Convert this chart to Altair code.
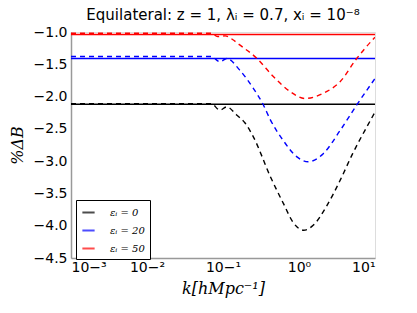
import altair as alt
import pandas as pd

labels = ["εᵢ = 0", "εᵢ = 20", "εᵢ = 50"]
colors = ["#000000", "#0000ff", "#ff0000"]

# constant (solid) levels
const_levels = [-2.12, -1.41, -1.04]

# dashed curves: k and values
k_black = [0.001, 0.01, 0.03, 0.05, 0.07, 0.091, 0.112, 0.15, 0.195, 0.25, 0.42, 0.62, 0.85, 1.15, 1.55, 2.3, 3.5, 5.1, 7.8, 10.0]
v_black = [-2.11, -2.11, -2.11, -2.11, -2.11, -2.21, -2.16, -2.28, -2.41, -2.62, -3.24, -3.65, -3.96, -4.07, -3.99, -3.70, -3.29, -2.88, -2.47, -2.24]

k_blue = [0.001, 0.01, 0.03, 0.05, 0.07, 0.091, 0.112, 0.166, 0.25, 0.34, 0.42, 0.62, 0.93, 1.32, 2.1, 3.5, 5.75, 10.0]
v_blue = [-1.38, -1.38, -1.38, -1.38, -1.38, -1.46, -1.41, -1.59, -1.87, -2.13, -2.36, -2.68, -2.93, -3.01, -2.88, -2.52, -2.13, -1.72]

k_red = [0.001, 0.01, 0.03, 0.05, 0.07, 0.085, 0.107, 0.135, 0.166, 0.28, 0.46, 0.76, 1.2, 2.07, 3.47, 5.75, 9.3, 10.0]
v_red = [-1.02, -1.02, -1.02, -1.02, -1.02, -1.07, -1.06, -1.12, -1.20, -1.41, -1.69, -1.92, -2.03, -1.95, -1.77, -1.41, -1.12, -1.08]

rows = []
for lab, ks, vs in zip(labels, [k_black, k_blue, k_red], [v_black, v_blue, v_red]):
    for k, v in zip(ks, vs):
        rows.append({"k": k, "v": v, "eps": lab})
curves = pd.DataFrame(rows)
consts = pd.DataFrame({"eps": labels, "v": const_levels})

xticks = [0.001, 0.01, 0.1, 1, 10]
yticks = [-1.0, -1.5, -2.0, -2.5, -3.0, -3.5, -4.0, -4.5]

color = alt.Color(
    "eps:N",
    scale=alt.Scale(domain=labels, range=colors),
    legend=alt.Legend(
        title=None, orient="none", legendX=5, legendY=168,
        symbolType="stroke", symbolSize=150, symbolStrokeWidth=2, symbolOpacity=0.7,
        symbolDash=[1, 0],
        labelFont="DejaVu Serif", labelFontSize=10, labelFontStyle="italic",
        strokeColor="black", fillColor="white", padding=5, rowPadding=5,
        cornerRadius=0, labelOffset=14,
    ),
)

xenc = alt.X(
    "k:Q",
    scale=alt.Scale(type="log", domain=[0.001, 10], nice=False),
    axis=alt.Axis(
        values=xticks, title="k[hMpc⁻¹]", titleFont="DejaVu Serif", titleFontStyle="italic",
        titleFontSize=16, titleFontWeight="normal", titlePadding=6,
        labelExpr="'10' + replace(replace(replace(replace(replace(format(log(datum.value)/log(10), 'd'), '-', '⁻'), '3', '³'), '2', '²'), '1', '¹'), '0', '⁰')",
        labelFontSize=14, labelFont="DejaVu Sans", labelColor="black", labelPadding=2,
        grid=False, ticks=False, domainColor="#999999", domainWidth=1.5,
    ),
)

yaxis = alt.Axis(
    values=yticks, title="%ΔB", titleFont="DejaVu Serif", titleFontStyle="italic",
    titleFontSize=16, titleFontWeight="normal", titlePadding=8,
    labelExpr="replace(format(datum.value, '.1f'), '-', '−')",
    labelFontSize=14, labelFont="DejaVu Sans", labelColor="black", labelPadding=4,
    grid=False, ticks=False, domainColor="#999999", domainWidth=1.5,
)
yscale = alt.Scale(domain=[-4.5, -1.0], nice=False, zero=False)

rules = alt.Chart(consts).mark_rule(strokeWidth=1.5).encode(
    y=alt.Y("v:Q", scale=yscale, axis=yaxis),
    color=color,
)

lines = alt.Chart(curves).mark_line(strokeDash=[5, 4], strokeWidth=1.4, interpolate="monotone", clip=True).encode(
    x=xenc,
    y=alt.Y("v:Q", scale=yscale, axis=yaxis),
    color=color,
    detail="eps:N",
)

chart = alt.layer(rules, lines).properties(
    width=304, height=226,
    title=alt.TitleParams("Equilateral: z = 1, λᵢ = 0.7, xᵢ = 10⁻⁸", fontSize=15, font="DejaVu Sans",
                          fontWeight="normal", anchor="middle", offset=2),
    autosize=alt.AutoSizeParams(type="none"),
    padding={"left": 63, "top": 24, "right": 34, "bottom": 47},
).configure_view(stroke="black", strokeWidth=1.5).configure(background="white")

chart.save("out.html", embed_options={"renderer": "svg", "actions": False})
